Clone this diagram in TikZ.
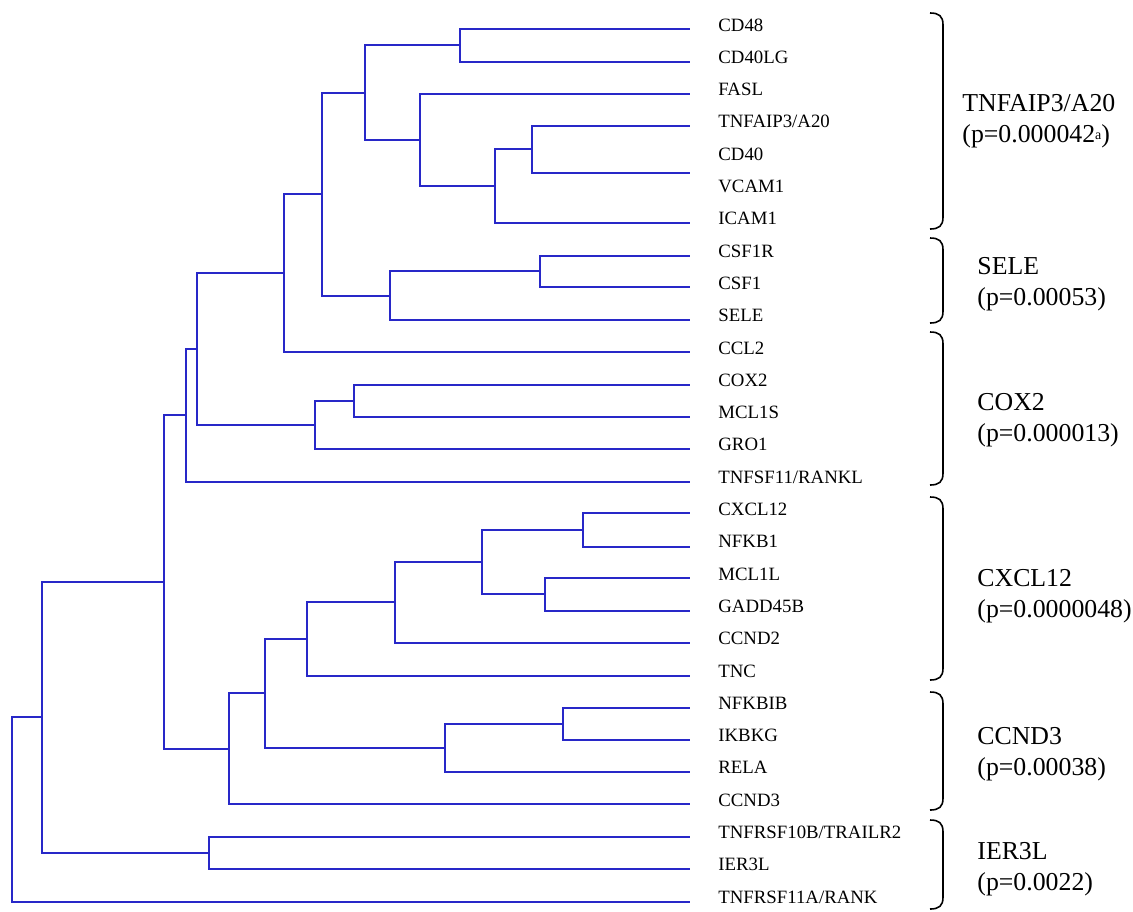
\documentclass[tikz,border=0pt]{standalone}
\usepackage{fontspec}
\setmainfont{Liberation Serif}
\definecolor{treeblue}{RGB}{40,40,200}
\tikzset{%
  edge/.style={line width=1pt,draw=#1},
  edge/.default=treeblue,
  gene/.style={anchor=base west,inner sep=0pt,font=\fontsize{9.4}{11}\selectfont},
  group/.style={anchor=base west,inner sep=0pt,align=left,font=\fontsize{12.9}{15.4}\selectfont},
  bracket/.style={line width=0.8pt,draw=#1},
  bracket/.default=black
}
% right curly bracket without a tip, from y=#1 down to y=#2
\newcommand{\genebrace}[2]{%
  \draw[bracket] (930,#1) .. controls (939,#1) and (943,#1+3) .. (943,#1+12)
    -- (943,#2-12) .. controls (943,#2-3) and (939,#2) .. (930,#2);}

\begin{document}
\begin{tikzpicture}[x=0.5pt,y=-0.5pt]

    \useasboundingbox (0,0) rectangle (1133,911);

    % Leaf ends of the dendrogram (27 lines, they do not sit exactly on the labels)
    \coordinate (g1) at (690,29);
    \coordinate (g2) at (690,62);
    \coordinate (g3) at (690,94);
    \coordinate (g4) at (690,126);
    \coordinate (g5) at (690,173);
    \coordinate (g6) at (690,223);
    \coordinate (g7) at (690,256);
    \coordinate (g8) at (690,287);
    \coordinate (g9) at (690,320);
    \coordinate (g10) at (690,352);
    \coordinate (g11) at (690,385);
    \coordinate (g12) at (690,417);
    \coordinate (g13) at (690,449);
    \coordinate (g14) at (690,482);
    \coordinate (g15) at (690,513);
    \coordinate (g16) at (690,547);
    \coordinate (g17) at (690,578);
    \coordinate (g18) at (690,611);
    \coordinate (g19) at (690,643);
    \coordinate (g20) at (690,676);
    \coordinate (g21) at (690,708);
    \coordinate (g22) at (690,740);
    \coordinate (g23) at (690,772);
    \coordinate (g24) at (690,804);
    \coordinate (g25) at (690,837);
    \coordinate (g26) at (690,869);
    \coordinate (g27) at (690,902);

    % Joins: x = merge height, y = about the middle of the two children
    \coordinate (a1) at (460,45);
    \coordinate (a2) at (532,149);
    \coordinate (a3) at (495,186);
    \coordinate (a4) at (420,140);
    \coordinate (a5) at (365,93);
    \coordinate (b1) at (540,271);
    \coordinate (b2) at (390,296);
    \coordinate (a6) at (322,194);
    \coordinate (a7) at (284,273);
    \coordinate (c1) at (354,401);
    \coordinate (c2) at (315,425);
    \coordinate (a8) at (197,349);
    \coordinate (a9) at (186,415);
    \coordinate (d1) at (583,530);
    \coordinate (d2) at (545,594);
    \coordinate (d3) at (482,562);
    \coordinate (d4) at (395,602);
    \coordinate (d5) at (307,639);
    \coordinate (e1) at (563,724);
    \coordinate (e2) at (445,748);
    \coordinate (d6) at (265,693);
    \coordinate (d7) at (229,749);
    \coordinate (r1) at (164,582);
    \coordinate (f1) at (209,853);
    \coordinate (r2) at (42,717);
    \coordinate (r3) at (12,810);

    % Draw the tree, every join to its two children
    \draw[edge] (a1) |- (g1);  \draw[edge] (a1) |- (g2);
    \draw[edge] (a2) |- (g4);  \draw[edge] (a2) |- (g5);
    \draw[edge] (a3) |- (a2);  \draw[edge] (a3) |- (g6);
    \draw[edge] (a4) |- (g3);  \draw[edge] (a4) |- (a3);
    \draw[edge] (a5) |- (a1);  \draw[edge] (a5) |- (a4);
    \draw[edge] (b1) |- (g7);  \draw[edge] (b1) |- (g8);
    \draw[edge] (b2) |- (b1);  \draw[edge] (b2) |- (g9);
    \draw[edge] (a6) |- (a5);  \draw[edge] (a6) |- (b2);
    \draw[edge] (a7) |- (a6);  \draw[edge] (a7) |- (g10);
    \draw[edge] (c1) |- (g11); \draw[edge] (c1) |- (g12);
    \draw[edge] (c2) |- (c1);  \draw[edge] (c2) |- (g13);
    \draw[edge] (a8) |- (a7);  \draw[edge] (a8) |- (c2);
    \draw[edge] (a9) |- (a8);  \draw[edge] (a9) |- (g14);
    \draw[edge] (d1) |- (g15); \draw[edge] (d1) |- (g16);
    \draw[edge] (d2) |- (g17); \draw[edge] (d2) |- (g18);
    \draw[edge] (d3) |- (d1);  \draw[edge] (d3) |- (d2);
    \draw[edge] (d4) |- (d3);  \draw[edge] (d4) |- (g19);
    \draw[edge] (d5) |- (d4);  \draw[edge] (d5) |- (g20);
    \draw[edge] (e1) |- (g21); \draw[edge] (e1) |- (g22);
    \draw[edge] (e2) |- (e1);  \draw[edge] (e2) |- (g23);
    \draw[edge] (d6) |- (d5);  \draw[edge] (d6) |- (e2);
    \draw[edge] (d7) |- (d6);  \draw[edge] (d7) |- (g24);
    \draw[edge] (r1) |- (a9);  \draw[edge] (r1) |- (d7);
    \draw[edge] (f1) |- (g25); \draw[edge] (f1) |- (g26);
    \draw[edge] (r2) |- (r1);  \draw[edge] (r2) |- (f1);
    \draw[edge] (r3) |- (r2);  \draw[edge] (r3) |- (g27);

    % Gene names
    \node[gene] (cd48) at (718,31) {CD48};
    \node[gene] (cd40lg) at (718,63.3) {CD40LG};
    \node[gene] (fasl) at (718,95.6) {FASL};
    \node[gene] (tnfaip) at (718,127.9) {TNFAIP3/A20};
    \node[gene] (cd40) at (718,160.2) {CD40};
    \node[gene] (vcam) at (718,192.5) {VCAM1};
    \node[gene] (icam) at (718,224.8) {ICAM1};
    \node[gene] (csfr) at (718,257.1) {CSF1R};
    \node[gene] (csf) at (718,289.4) {CSF1};
    \node[gene] (sele) at (718,321.7) {SELE};
    \node[gene] (ccl) at (718,354) {CCL2};
    \node[gene] (cox) at (718,386.3) {COX2};
    \node[gene] (mcls) at (718,418.6) {MCL1S};
    \node[gene] (gro) at (718,450.9) {GRO1};
    \node[gene] (rankl) at (718,483.2) {TNFSF11/RANKL};
    \node[gene] (cxcl) at (718,515.5) {CXCL12};
    \node[gene] (nfkb) at (718,547.8) {NFKB1};
    \node[gene] (mcll) at (718,580.1) {MCL1L};
    \node[gene] (gadd) at (718,612.4) {GADD45B};
    \node[gene] (ccndb) at (718,644.7) {CCND2};
    \node[gene] (tnc) at (718,677) {TNC};
    \node[gene] (nfkbib) at (718,709.3) {NFKBIB};
    \node[gene] (ikbkg) at (718,741.6) {IKBKG};
    \node[gene] (rela) at (718,773.9) {RELA};
    \node[gene] (ccndc) at (718,806.2) {CCND3};
    \node[gene] (trail) at (718,838.5) {TNFRSF10B/TRAILR2};
    \node[gene] (ier) at (718,870.8) {IER3L};
    \node[gene] (rank) at (718,903.1) {TNFRSF11A/RANK};

    % Brackets and group names (base = baseline of the second line)
    \genebrace{13}{229}
    \genebrace{238}{323}
    \genebrace{332}{485}
    \genebrace{497}{680}
    \genebrace{692}{810}
    \genebrace{820}{909}

    \node[group] (grpa) at (962,142) {TNFAIP3/A20\\(p=0.000042\raisebox{0.25ex}{\scriptsize a})};
    \node[group] (grpb) at (977,305) {SELE\\(p=0.00053)};
    \node[group] (grpc) at (977,441) {COX2\\(p=0.000013)};
    \node[group] (grpd) at (977,617) {CXCL12\\(p=0.0000048)};
    \node[group] (grpe) at (977,775) {CCND3\\(p=0.00038)};
    \node[group] (grpf) at (977,890) {IER3L\\(p=0.0022)};

\end{tikzpicture}
\end{document}
